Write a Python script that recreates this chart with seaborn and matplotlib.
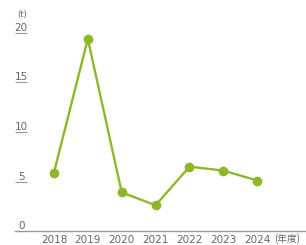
import numpy as np
import pandas as pd
import seaborn as sns
import matplotlib.pyplot as plt

sns.set_style("white")
plt.rcParams['font.family'] = ['DejaVu Sans', 'Noto Sans CJK JP']

years = ["2018", "2019", "2020", "2021", "2022", "2023", "2024"]
tons = [5.9, 19.4, 3.9, 2.6, 6.5, 6.1, 5.1]
yticks = [0, 5, 10, 15, 20]

GREEN = "#8db82a"
GRAY = "#666666"

df = pd.DataFrame({"year": years, "value": tons})
df["pos"] = np.arange(len(years))

fig = plt.figure(figsize=(3.06, 2.45), dpi=100)
# axes: left 15px, right 306px, bottom y=231px, top y=33px
ax = fig.add_axes([15 / 306, (245 - 231) / 245, 291 / 306, (231 - 33) / 245])

sns.lineplot(data=df, x="pos", y="value", ax=ax, color=GREEN, linewidth=1.7,
             marker="o", markersize=7, markeredgewidth=0, markerfacecolor=GREEN,
             clip_on=False)

ax.set_xlim(-1.15, 7.44)
ax.set_ylim(0, 20)
ax.set_xticks(df["pos"])
ax.set_xticklabels(years)
ax.set_yticks(yticks)
ax.set_yticklabels([str(t) for t in yticks])
ax.set_xlabel("")
ax.set_ylabel("")

for s in ["top", "right", "left"]:
    ax.spines[s].set_visible(False)
ax.spines["bottom"].set_color("#9a9a9a")
ax.spines["bottom"].set_linewidth(1.0)

ax.tick_params(axis="x", bottom=False, length=0, pad=3, labelsize=7.5, labelcolor=GRAY)
ax.tick_params(axis="y", left=True, direction="in", length=8.5, width=0.8, color="#9a9a9a",
               pad=-4.5, labelsize=7.5, labelcolor=GRAY)
for lab in ax.get_yticklabels():
    lab.set_horizontalalignment("center")
    lab.set_verticalalignment("bottom")

ax.text(22 / 306, (245 - 15) / 245, "(t)", transform=fig.transFigure,
        ha="center", va="center", fontsize=6, color=GRAY)
ax.text(287 / 306, (245 - 239) / 245, "(年度)", transform=fig.transFigure,
        ha="center", va="center", fontsize=7, color=GRAY,
        family=["Noto Sans CJK JP", "DejaVu Sans"])

fig.savefig("out.png", dpi=100)
plt.close()
